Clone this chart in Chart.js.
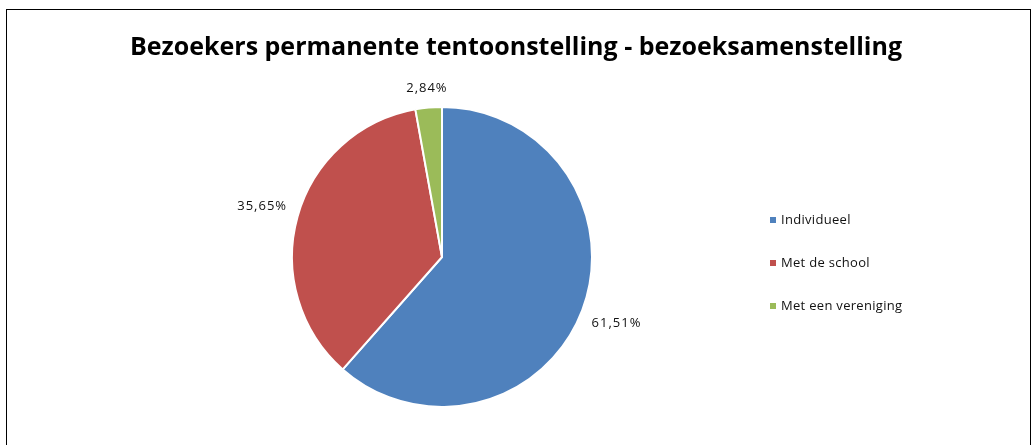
<!DOCTYPE html>
<html><head><meta charset="utf-8">
<script src="https://cdn.jsdelivr.net/npm/chart.js@4/dist/chart.umd.min.js"></script>
<style>html,body{margin:0;padding:0;background:#fff}#wrap{width:1031px;height:445px;position:relative}</style>
</head><body><div id="wrap"><canvas id="c" width="1031" height="445"></canvas></div>
<script>
const title = 'Bezoekers permanente tentoonstelling - bezoeksamenstelling';
const categories = ['Individueel', 'Met de school', 'Met een vereniging'];
const values = [61.51, 35.65, 2.84];
const valueLabels = ['61,51%', '35,65%', '2,84%'];
const colors = ['#4F81BD', '#C0504D', '#9BBB59'];

const decor = {
  id: 'decor',
  afterDraw(chart) {
    const ctx = chart.ctx;
    ctx.save();
    // border
    ctx.strokeStyle = '#000';
    ctx.lineWidth = 1;
    ctx.strokeRect(6.5, 9.5, 1024, 445);
    // title
    ctx.fillStyle = '#000';
    ctx.font = 'bold 25px "Open Sans"';
    ctx.textAlign = 'center';
    ctx.textBaseline = 'alphabetic';
    ctx.fillText(title, 516, 55);
    // data labels
    const meta = chart.getDatasetMeta(0);
    ctx.font = '13px "Open Sans"';
    ctx.letterSpacing = '1px';
    ctx.fillStyle = '#111';
    ctx.textBaseline = 'middle';
    meta.data.forEach((arc, i) => {
      const p = arc.getProps(['x','y','startAngle','endAngle','outerRadius'], true);
      const mid = (p.startAngle + p.endAngle) / 2;
      const txt = valueLabels[i];
      const w = ctx.measureText(txt).width, h = 13;
      const c = Math.cos(mid), s = Math.sin(mid);
      const d = p.outerRadius + 11 + Math.abs(c) * w / 2 + Math.abs(s) * h / 2;
      ctx.fillText(txt, p.x + c * d, p.y + s * d);
    });
    // legend
    ctx.textAlign = 'left';
    ctx.letterSpacing = '0.3px';
    ctx.font = '13px "Open Sans"';
    categories.forEach((cat, i) => {
      const y = 220 + i * 43;
      ctx.fillStyle = colors[i];
      ctx.fillRect(770, y - 3, 6, 6);
      ctx.fillStyle = '#111';
      ctx.fillText(cat, 781, y);
    });
    ctx.restore();
  }
};

new Chart(document.getElementById('c'), {
  type: 'pie',
  data: {
    labels: categories,
    datasets: [{ data: values, backgroundColor: colors, borderColor: '#fff', borderWidth: 2, hoverOffset: 0 }]
  },
  options: {
    responsive: false,
    animation: false,
    layout: { padding: { left: 291, right: 438, top: 106, bottom: 37 } },
    plugins: { legend: { display: false }, title: { display: false }, tooltip: { enabled: false } }
  },
  plugins: [decor]
});
</script></body></html>
